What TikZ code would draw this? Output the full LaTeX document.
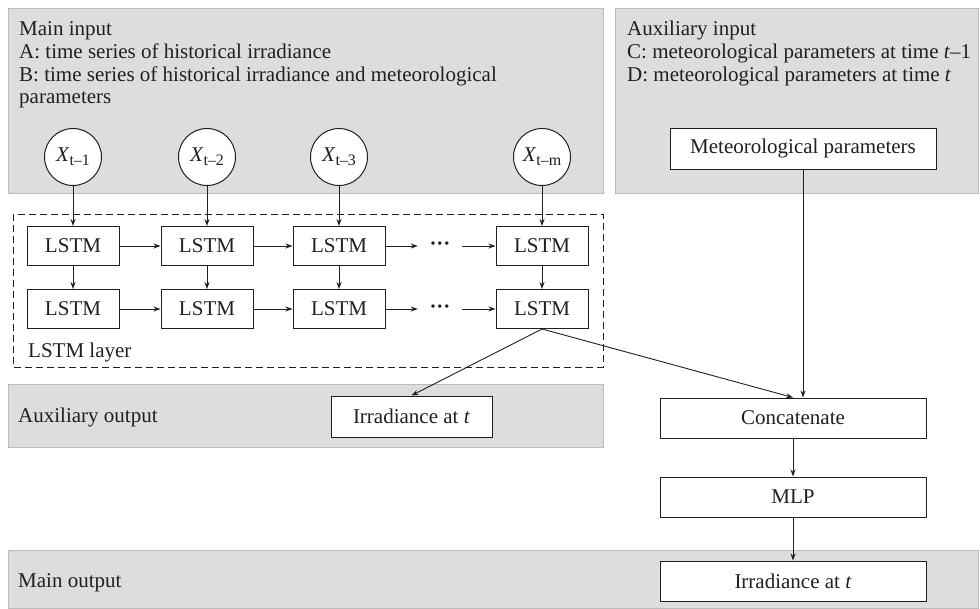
\documentclass[tikz,border=0pt]{standalone}
\usepackage{fontspec}
\setmainfont{Liberation Serif}
\usetikzlibrary{arrows.meta}
\definecolor{bandgray}{RGB}{220,221,223}
\definecolor{bandline}{RGB}{186,187,189}
\definecolor{ink}{RGB}{35,31,32}
\newcommand{\xsub}[1]{\textit{X}\raisebox{-4pt}{\fontsize{16}{16}\selectfont #1}}

\begin{document}
\begin{tikzpicture}[x=1pt, y=-1pt,
		font=\fontsize{21}{23}\selectfont, text=ink,
		band/.style={fill=bandgray, draw=bandline, line width=1pt},
		cell/.style={draw=ink, fill=white, line width=1pt, minimum width=92pt, minimum height=39pt, inner sep=0pt},
		wide/.style={cell, minimum width=266pt, minimum height=40pt},
		inp/.style={circle, draw=ink, fill=white, line width=1pt, minimum size=57pt, inner sep=0pt},
		dots/.style={minimum width=44pt, inner sep=0pt, font=\fontsize{21}{23}\selectfont\bfseries},
		arr/.style={-{Stealth[length=7pt, width=5pt]}, line width=0.9pt, draw=ink},
		lbl/.style={anchor=base west, inner sep=0pt}]
		\useasboundingbox (0,0) rectangle (980,608);
		% grey bands
		\draw[band] (8,8) rectangle (603,193);
		\draw[band] (615,8) rectangle (978,193);
		\draw[band] (8,384) rectangle (603,447);
		\draw[band] (8,550) rectangle (978,608);
		\node[lbl] (mi) at (19,35) {Main input};
		\node[lbl] (ma) at (19,58) {A: time series of historical irradiance};
		\node[lbl] (mb) at (19,81) {B: time series of historical irradiance and meteorological};
		\node[lbl] (mc) at (19,103) {parameters};
		\node[lbl] (ai) at (627,35) {Auxiliary input};
		\node[lbl] (ac) at (627,58) {C: meteorological parameters at time \textit{t}–1};
		\node[lbl] (ad) at (627,81) {D: meteorological parameters at time \textit{t}};
		\node[lbl] (ao) at (18,422) {Auxiliary output};
		\node[lbl] (mo) at (18,587) {Main output};
		% inputs
		\node[inp] (x1) at (73,157) {\xsub{t–1}};
		\node[inp] (x2) at (207,157) {\xsub{t–2}};
		\node[inp] (x3) at (339,157) {\xsub{t–3}};
		\node[inp] (x4) at (542,157) {\xsub{t–m}};
		% LSTM layer
		\draw[draw=ink, line width=1pt, dash pattern=on 7pt off 4pt] (13,214) rectangle (603,367);
		\node[lbl] (ll) at (28,357) {LSTM layer};
		\node[cell] (l11) at (73,246) {LSTM};
		\node[cell] (l12) at (207,246) {LSTM};
		\node[cell] (l13) at (339,246) {LSTM};
		\node[dots] (d1) at (440,246) {···};
		\node[cell] (l14) at (542,246) {LSTM};
		\node[cell] (l21) at (73,309) {LSTM};
		\node[cell] (l22) at (207,309) {LSTM};
		\node[cell] (l23) at (339,309) {LSTM};
		\node[dots] (d2) at (440,309) {···};
		\node[cell] (l24) at (542,309) {LSTM};
		% outputs and merge
		\node[cell, minimum width=161pt, minimum height=41pt] (ir1) at (411.5,416.5) {Irradiance at \textit{t}};
		\node[wide, minimum height=41pt] (met) at (803,148.5) {Meteorological parameters};
		\node[wide] (cat) at (793,418) {Concatenate};
		\node[wide] (mlp) at (793,497) {MLP};
		\node[wide] (ir2) at (793,581) {Irradiance at \textit{t}};
		% connectors
		\draw[arr] (x1) -- (l11);
		\draw[arr] (x2) -- (l12);
		\draw[arr] (x3) -- (l13);
		\draw[arr] (x4) -- (l14);
		\draw[arr] (l11) -- (l12);
		\draw[arr] (l12) -- (l13);
		\draw[arr] (l13) -- (d1);
		\draw[arr] (d1) -- (l14);
		\draw[arr] (l21) -- (l22);
		\draw[arr] (l22) -- (l23);
		\draw[arr] (l23) -- (d2);
		\draw[arr] (d2) -- (l24);
		\draw[arr] (l11) -- (l21);
		\draw[arr] (l12) -- (l22);
		\draw[arr] (l13) -- (l23);
		\draw[arr] (l14) -- (l24);
		\draw[arr] (l24.south) -- (ir1.north);
		\draw[arr] (l24.south) -- (cat.north);
		\draw[arr] (met.south) -- (met.south |- cat.north);
		\draw[arr] (cat) -- (mlp);
		\draw[arr] (mlp) -- (ir2);
\end{tikzpicture}
\end{document}
